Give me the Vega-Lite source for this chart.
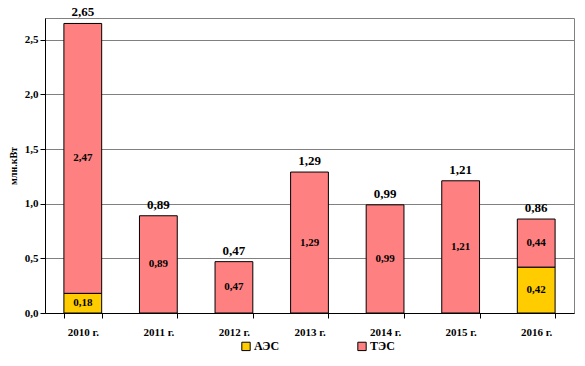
{
  "$schema": "https://vega.github.io/schema/vega-lite/v6.json",
  "width": 529,
  "height": 295,
  "autosize": {"type": "none"},
  "padding": {"left": 45, "top": 18, "right": 11, "bottom": 53},
  "background": "white",
  "config": {
    "view": {"stroke": "#808080", "strokeWidth": 1},
    "font": "Liberation Serif, DejaVu Serif, serif"
  },
  "data": {
    "values": [
      {"year": "2010 г.", "type": "АЭС", "value": 0.18, "order": 1},
      {"year": "2010 г.", "type": "ТЭС", "value": 2.47, "order": 2},
      {"year": "2011 г.", "type": "ТЭС", "value": 0.89, "order": 2},
      {"year": "2012 г.", "type": "ТЭС", "value": 0.47, "order": 2},
      {"year": "2013 г.", "type": "ТЭС", "value": 1.29, "order": 2},
      {"year": "2014 г.", "type": "ТЭС", "value": 0.99, "order": 2},
      {"year": "2015 г.", "type": "ТЭС", "value": 1.21, "order": 2},
      {"year": "2016 г.", "type": "АЭС", "value": 0.42, "order": 1},
      {"year": "2016 г.", "type": "ТЭС", "value": 0.44, "order": 2}
    ]
  },
  "transform": [
    {"stack": "value", "groupby": ["year"], "sort": [{"field": "order"}], "as": ["y0", "y1"]},
    {"calculate": "(datum.y0 + datum.y1) / 2", "as": "mid"},
    {"calculate": "replace(format(datum.value, '.2f'), '.', ',')", "as": "lbl"}
  ],
  "layer": [
    {
      "mark": {"type": "bar", "stroke": "black", "strokeWidth": 1},
      "encoding": {
        "x": {
          "field": "year", "type": "nominal",
          "scale": {"paddingInner": 0.5, "paddingOuter": 0.25},
          "axis": {
            "title": null, "labelAngle": 0, "domainColor": "black", "tickColor": "black",
            "tickBand": "extent", "tickSize": 5, "labelPadding": 8,
            "labelFont": "Liberation Serif, DejaVu Serif, serif", "labelFontWeight": "bold", "labelFontSize": 11, "labelColor": "black"
          }
        },
        "y": {
          "field": "y1", "type": "quantitative",
          "scale": {"domain": [0, 2.7], "nice": false},
          "axis": {
            "title": "млн.кВт", "titleFontSize": 10, "titleFont": "Liberation Serif, DejaVu Serif, serif", "titleFontWeight": "bold",
            "titlePadding": 6, "titleColor": "black",
            "values": [0, 0.5, 1, 1.5, 2, 2.5],
            "labelExpr": "replace(format(datum.value, '.1f'), '.', ',')",
            "labelFont": "Liberation Serif, DejaVu Serif, serif", "labelFontWeight": "bold", "labelFontSize": 11, "labelColor": "black",
            "domainColor": "black", "tickColor": "black", "tickSize": 5,
            "gridColor": "#808080", "gridOpacity": 1
          }
        },
        "y2": {"field": "y0"},
        "color": {
          "field": "type", "type": "nominal",
          "scale": {"domain": ["АЭС", "ТЭС"], "range": ["#FFCC00", "#FF8080"]},
          "legend": {
            "title": null, "orient": "none", "direction": "horizontal",
            "legendX": 195, "legendY": 322,
            "symbolType": "square", "symbolSize": 70, "symbolStrokeColor": "black", "symbolStrokeWidth": 1,
            "labelFont": "Liberation Serif, DejaVu Serif, serif", "labelFontWeight": "bold", "labelFontSize": 12, "labelColor": "black",
            "labelOffset": 2, "columnPadding": 75
          }
        }
      }
    },
    {
      "mark": {"type": "text", "font": "Liberation Serif, DejaVu Serif, serif", "fontWeight": "bold", "fontSize": 11, "color": "black"},
      "encoding": {
        "x": {"field": "year", "type": "nominal"},
        "y": {"field": "mid", "type": "quantitative"},
        "text": {"field": "lbl"}
      }
    },
    {
      "transform": [
        {"aggregate": [{"op": "sum", "field": "value", "as": "total"}], "groupby": ["year"]},
        {"calculate": "replace(format(datum.total, '.2f'), '.', ',')", "as": "tl"}
      ],
      "mark": {"type": "text", "font": "Liberation Serif, DejaVu Serif, serif", "fontWeight": "bold", "fontSize": 13, "color": "black", "baseline": "bottom", "dy": -4},
      "encoding": {
        "x": {"field": "year", "type": "nominal"},
        "y": {"field": "total", "type": "quantitative"},
        "text": {"field": "tl"}
      }
    }
  ]
}
